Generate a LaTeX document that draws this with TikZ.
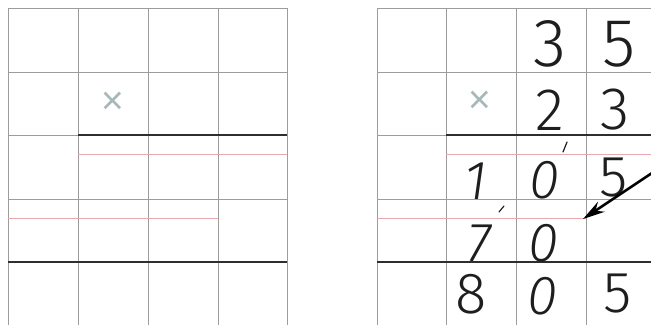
\documentclass[tikz,border=0pt]{standalone}
\usepackage{fontspec}
\newfontfamily\hand{Fira Sans Light}
\usetikzlibrary{arrows.meta}
\definecolor{gridgray}{HTML}{9C9C9C}
\definecolor{rulegray}{HTML}{2E2E2E}
\definecolor{linered}{HTML}{E8A8B0}
\definecolor{ink}{HTML}{1E1E1E}
\definecolor{timesgray}{HTML}{A8B8B8}
\begin{document}
\begin{tikzpicture}[x=1pt,y=-1pt,
  gridline/.style={draw=gridgray, line width=0.9pt},
  rule/.style={draw=rulegray, line width=1.7pt},
  redline/.style={draw=linered, line width=0.9pt},
  digit/.style={inner sep=0pt, text=ink, font=\hand\fontsize{60}{60}\selectfont},
  bigdigit/.style={digit, font=\hand\fontsize{68}{68}\selectfont},
  lowdigit/.style={digit, font=\hand\fontsize{58}{58}\selectfont},
  slant/.style={digit, font=\hand\itshape\fontsize{55}{55}\selectfont},
  timesmark/.style={inner sep=0pt, text=timesgray, font=\hand\fontsize{54}{54}\selectfont},
  carry/.style={draw=ink, line width=1.2pt, line cap=round},
  pointer/.style={draw=black, line width=2.6pt, -{Stealth[length=22pt,width=12pt]}}]
\useasboundingbox (0,0) rectangle (651,325);
\fill[white] (0,0) rectangle (651,325);
% left grid
\foreach \x in {8,78,148,218,287} \draw[gridline] (\x,8) -- (\x,325);
\foreach \y in {8,72,135,199,262} \draw[gridline] (8,\y) -- (287,\y);
\draw[redline] (78,154) -- (287,154);
\draw[redline] (8,218) -- (218,218);
\draw[rule] (78,135) -- (287,135);
\draw[rule] (8,262) -- (287,262);
\node[timesmark] (lx) at (113,105) {×};
% right grid
\foreach \x in {377,446,516,586} \draw[gridline] (\x,8) -- (\x,325);
\foreach \y in {8,72,135,199,262} \draw[gridline] (377,\y) -- (651,\y);
\draw[redline] (446,154) -- (651,154);
\draw[redline] (377,218) -- (586,218);
\draw[rule] (446,135) -- (651,135);
\draw[rule] (377,262) -- (651,262);
\node[timesmark] (rx) at (480,104) {×};
% digits
\node[bigdigit] (a1) at (550,44) {3};
\node[bigdigit] (a2) at (619,44) {5};
\node[digit] (b1) at (550,110) {2};
\node[digit] (b2) at (615,110) {3};
\node[slant] (c1) at (476,181) {1};
\node[slant] (c2) at (545,180) {0};
\node[lowdigit] (c3) at (614,178) {5};
\node[slant] (d1) at (479,243) {7};
\node[slant] (d2) at (544,243) {0};
\node[lowdigit] (e1) at (471,294) {8};
\node[slant] (e2) at (543,296) {0};
\node[lowdigit] (e3) at (618,294) {5};
% carry ticks
\draw[carry] (563,152) -- (567,142);
\draw[carry] (499,212) -- (504,206);
% arrow
\coordinate (from) at (655,171);
\coordinate (to) at (583,219);
\draw[pointer] (from) -- (to);
\end{tikzpicture}
\end{document}
